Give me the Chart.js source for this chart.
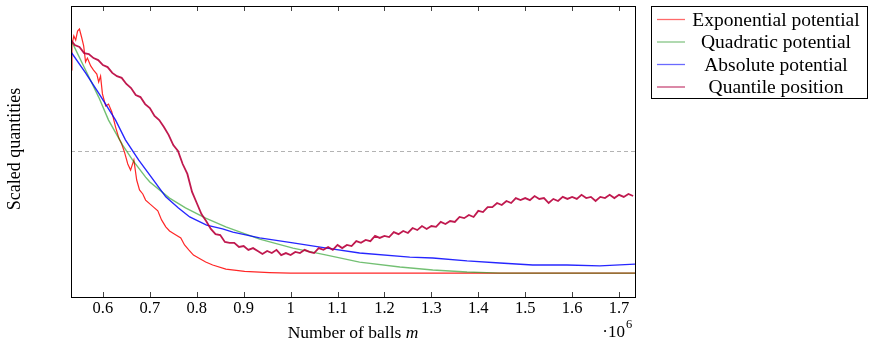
<!DOCTYPE html>
<html>
<head>
<meta charset="utf-8">
<script src="https://cdn.jsdelivr.net/npm/chart.js@4.4.1/dist/chart.umd.min.js"></script>
<style>
  html, body { margin: 0; padding: 0; background: #fff; }
  #wrap { width: 870px; height: 341px; }
</style>
</head>
<body>
<div id="wrap"><canvas id="ballsChart" width="870" height="341"></canvas></div>
<script>
// --- Daten (m in 10^6, y skaliert 0..1) ---
const seriesNames = ["Exponential potential", "Quadratic potential", "Absolute potential", "Quantile position"];
const xTicks = [0.6, 0.7, 0.8, 0.9, 1.0, 1.1, 1.2, 1.3, 1.4, 1.5, 1.6, 1.7];
const xMin = 0.532;
const xMax = 1.734;

const expM = [0.532, 0.534, 0.538, 0.542, 0.546, 0.550, 0.555, 0.559, 0.563, 0.567,
  0.574, 0.580, 0.587, 0.591, 0.595, 0.599, 0.606, 0.612, 0.619, 0.627,
  0.634, 0.640, 0.646, 0.653, 0.659, 0.666, 0.672, 0.678, 0.685, 0.691,
  0.700, 0.708, 0.717, 0.725, 0.734, 0.742, 0.753, 0.766, 0.774, 0.783,
  0.793, 0.804, 0.819, 0.834, 0.862, 0.902, 0.955, 1.0, 1.734];
const expV = [0.780, 0.866, 0.897, 0.883, 0.914, 0.921, 0.890, 0.863, 0.808, 0.821,
  0.794, 0.780, 0.766, 0.739, 0.759, 0.698, 0.656, 0.663, 0.636, 0.584,
  0.546, 0.526, 0.498, 0.457, 0.436, 0.471, 0.402, 0.368, 0.354, 0.333,
  0.320, 0.309, 0.296, 0.265, 0.241, 0.227, 0.216, 0.203, 0.179, 0.162,
  0.144, 0.134, 0.120, 0.110, 0.096, 0.088, 0.084, 0.082, 0.082];

const quadM = [0.532, 0.563, 0.591, 0.612, 0.642, 0.663, 0.691, 0.700, 0.742, 0.776,
  0.819, 0.862, 0.934, 1.005, 1.077, 1.147, 1.233, 1.303, 1.376, 1.446, 1.734];
const quadV = [0.883, 0.780, 0.687, 0.608, 0.522, 0.471, 0.412, 0.395, 0.340, 0.306,
  0.271, 0.241, 0.199, 0.168, 0.144, 0.120, 0.103, 0.093, 0.086, 0.082, 0.082];

const absM = [0.532, 0.563, 0.591, 0.627, 0.648, 0.676, 0.700, 0.734, 0.761, 0.785,
  0.821, 0.855, 0.877, 0.934, 1.005, 1.077, 1.147, 1.254, 1.303, 1.376,
  1.446, 1.516, 1.589, 1.659, 1.734];
const absV = [0.842, 0.770, 0.701, 0.608, 0.540, 0.471, 0.419, 0.344, 0.306, 0.275,
  0.247, 0.234, 0.223, 0.203, 0.186, 0.168, 0.151, 0.137, 0.134, 0.124,
  0.117, 0.110, 0.110, 0.107, 0.113];

const quantM = [0.532, 0.54, 0.55, 0.56, 0.57, 0.58, 0.59, 0.60, 0.61, 0.62,
  0.63, 0.64, 0.65, 0.66, 0.67, 0.68, 0.69, 0.70, 0.71, 0.72,
  0.73, 0.74, 0.75, 0.76, 0.77, 0.78, 0.79, 0.80, 0.81, 0.82,
  0.83, 0.84, 0.85, 0.86, 0.87, 0.88, 0.89, 0.90, 0.91, 0.92,
  0.93, 0.94, 0.95, 0.96, 0.97, 0.98, 0.99, 1.00, 1.01, 1.02,
  1.03, 1.04, 1.05, 1.06, 1.07, 1.08, 1.09, 1.10, 1.11, 1.12,
  1.13, 1.14, 1.15, 1.16, 1.17, 1.18, 1.19, 1.20, 1.21, 1.22,
  1.23, 1.24, 1.25, 1.26, 1.27, 1.28, 1.29, 1.30, 1.31, 1.32,
  1.33, 1.34, 1.35, 1.36, 1.37, 1.38, 1.39, 1.40, 1.41, 1.42,
  1.43, 1.44, 1.45, 1.46, 1.47, 1.48, 1.49, 1.50, 1.51, 1.52,
  1.53, 1.54, 1.55, 1.56, 1.57, 1.58, 1.59, 1.60, 1.61, 1.62,
  1.63, 1.64, 1.65, 1.66, 1.67, 1.68, 1.69, 1.70, 1.71, 1.72, 1.73];
const quantV = [0.883, 0.866, 0.859, 0.838, 0.835, 0.821, 0.814, 0.797, 0.790, 0.770,
  0.759, 0.753, 0.732, 0.718, 0.694, 0.687, 0.663, 0.649, 0.622, 0.608,
  0.584, 0.557, 0.522, 0.502, 0.457, 0.423, 0.361, 0.323, 0.285, 0.261,
  0.234, 0.216, 0.213, 0.189, 0.186, 0.186, 0.172, 0.175, 0.162, 0.168,
  0.158, 0.148, 0.158, 0.151, 0.162, 0.144, 0.151, 0.144, 0.155, 0.151,
  0.162, 0.155, 0.151, 0.168, 0.162, 0.172, 0.162, 0.179, 0.168, 0.179,
  0.175, 0.192, 0.186, 0.196, 0.192, 0.210, 0.203, 0.210, 0.206, 0.223,
  0.216, 0.227, 0.220, 0.237, 0.230, 0.244, 0.234, 0.244, 0.241, 0.258,
  0.251, 0.261, 0.258, 0.275, 0.271, 0.282, 0.275, 0.296, 0.292, 0.309,
  0.309, 0.323, 0.316, 0.330, 0.323, 0.340, 0.333, 0.340, 0.333, 0.347,
  0.337, 0.340, 0.323, 0.337, 0.330, 0.344, 0.337, 0.344, 0.337, 0.351,
  0.340, 0.344, 0.330, 0.344, 0.340, 0.351, 0.340, 0.351, 0.344, 0.354, 0.347];

const refLevel = 0.5;

// --- Farben ---
const lineColors = ["rgba(255,0,0,0.85)", "rgba(0,140,0,0.55)", "rgba(0,0,255,0.85)", "rgba(185,0,60,0.9)"];
const legendColors = ["#ff6a6a", "#86c486", "#6a6aff", "#c84a78"];

function punkte(xs, ys) {
    return xs.map((x, i) => ({ x: x, y: ys[i] }));
}

const serif = "'Liberation Serif', 'DejaVu Serif', serif";

// --- Rahmen, Ticks, Achsentitel und Legende zeichnen ---
const pgfStyle = {
    id: "pgfStyle",
    afterDraw(chart) {
        const ctx = chart.ctx;
        const a = chart.chartArea;
        const xs = chart.scales.x;
        ctx.save();

        // Ticks innen oben und unten
        ctx.strokeStyle = "#444";
        ctx.lineWidth = 1;
        xTicks.forEach(t => {
            const px = Math.round(xs.getPixelForValue(t)) + 0.5;
            ctx.beginPath();
            ctx.moveTo(px, a.bottom);
            ctx.lineTo(px, a.bottom - 5);
            ctx.moveTo(px, a.top);
            ctx.lineTo(px, a.top + 5);
            ctx.stroke();
        });

        // Rahmen
        ctx.strokeStyle = "#000";
        ctx.strokeRect(Math.round(a.left) + 0.5, Math.round(a.top) + 0.5,
            Math.round(a.right - a.left), Math.round(a.bottom - a.top));

        // Achsentitel
        const fs = 17.5;
        ctx.fillStyle = "#000";
        ctx.textBaseline = "middle";
        const t1 = "Number of balls ";
        ctx.font = fs + "px " + serif;
        const w1 = ctx.measureText(t1).width;
        ctx.font = "italic " + fs + "px " + serif;
        const w2 = ctx.measureText("m").width;
        const cx = (a.left + a.right) / 2;
        const sx = cx - (w1 + w2) / 2;
        ctx.textAlign = "left";
        ctx.font = fs + "px " + serif;
        ctx.fillText(t1, sx, 333);
        ctx.font = "italic " + fs + "px " + serif;
        ctx.fillText("m", sx + w1, 333);

        // ·10^6
        ctx.font = "17px " + serif;
        ctx.textAlign = "right";
        const w6 = 8;
        ctx.fillText("\u00b710", a.right - 2 - w6, 333);
        ctx.font = "12.5px " + serif;
        ctx.textAlign = "left";
        ctx.fillText("6", a.right - 1 - w6, 325);

        ctx.save();
        ctx.translate(15, 149);
        ctx.rotate(-Math.PI / 2);
        ctx.textAlign = "center";
        ctx.font = "18px " + serif;
        ctx.fillText("Scaled quantities", 0, 0);
        ctx.restore();

        // Legende
        const lx = 651.5, ly = 6.5, lw = 216, lh = 92;
        ctx.fillStyle = "#fff";
        ctx.fillRect(lx, ly, lw, lh);
        ctx.strokeStyle = "#000";
        ctx.lineWidth = 1;
        ctx.strokeRect(lx, ly, lw, lh);
        const rows = [19.5, 42, 64.5, 87];
        seriesNames.forEach((name, i) => {
            ctx.strokeStyle = legendColors[i];
            ctx.lineWidth = 1.3;
            ctx.beginPath();
            ctx.moveTo(657, rows[i]);
            ctx.lineTo(685, rows[i]);
            ctx.stroke();
            ctx.fillStyle = "#000";
            ctx.font = "19.5px " + serif;
            ctx.textAlign = "center";
            ctx.fillText(name, 776, rows[i] + 1);
        });
        ctx.restore();
    }
};

document.addEventListener("DOMContentLoaded", () => {
    const ctx = document.getElementById("ballsChart").getContext("2d");

    new Chart(ctx, {
        type: "line",
        data: {
            datasets: [
                {
                    label: "ref",
                    data: punkte([xMin, xMax], [refLevel, refLevel]),
                    borderColor: "#b3b3b3",
                    borderDash: [4, 3],
                    borderWidth: 1.2,
                    order: 5
                },
                {
                    label: seriesNames[0],
                    data: punkte(expM, expV),
                    borderColor: lineColors[0],
                    borderWidth: 1.2,
                    order: 4
                },
                {
                    label: seriesNames[1],
                    data: punkte(quadM, quadV),
                    borderColor: lineColors[1],
                    borderWidth: 1.4,
                    order: 3
                },
                {
                    label: seriesNames[2],
                    data: punkte(absM, absV),
                    borderColor: lineColors[2],
                    borderWidth: 1.4,
                    order: 2
                },
                {
                    label: seriesNames[3],
                    data: punkte(quantM, quantV),
                    borderColor: lineColors[3],
                    borderWidth: 1.8,
                    order: 1
                }
            ]
        },
        options: {
            responsive: false,
            animation: false,
            events: [],
            elements: {
                point: { radius: 0 },
                line: { tension: 0, fill: false }
            },
            layout: { padding: { left: 71, right: 235, top: 6, bottom: 0 } },
            plugins: {
                legend: { display: false },
                tooltip: { enabled: false }
            },
            scales: {
                x: {
                    type: "linear",
                    min: xMin,
                    max: xMax,
                    grid: { display: false, drawTicks: false },
                    border: { display: false },
                    afterFit: (scale) => { scale.height = 44; },
                    afterBuildTicks: (scale) => {
                        scale.ticks = xTicks.map(v => ({ value: v }));
                    },
                    ticks: {
                        padding: 2,
                        maxRotation: 0,
                        autoSkip: false,
                        color: "#000",
                        font: { family: serif, size: 16.5 },
                        callback: (v) => String(Number(v.toFixed(1)))
                    }
                },
                y: {
                    display: false,
                    min: 0,
                    max: 1
                }
            }
        },
        plugins: [pgfStyle]
    });
});
</script>
</body>
</html>
